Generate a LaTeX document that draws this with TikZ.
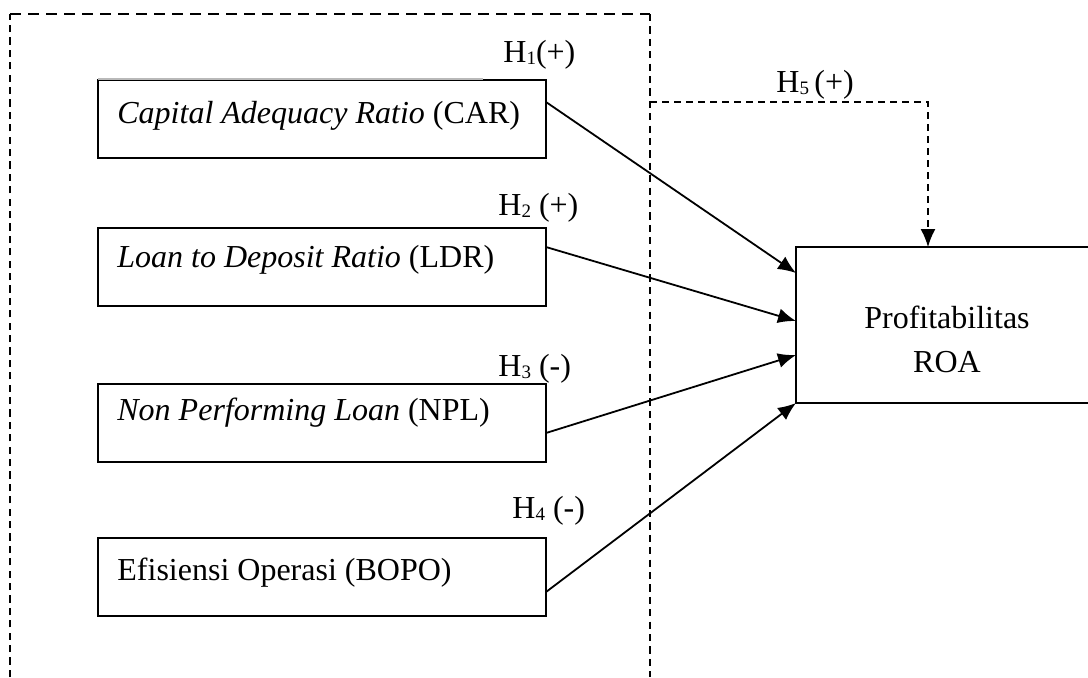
\documentclass[tikz,border=0pt]{standalone}
\usepackage{fontspec}
\setmainfont{Liberation Serif}
\usetikzlibrary{arrows.meta}
% hypothesis label: H with a lowered subscript number
\newcommand{\hyplabel}[2]{H\raisebox{-1.2pt}{\fontsize{9.5}{10}\selectfont #1}#2}

\begin{document}
\begin{tikzpicture}[x=0.5pt,y=-0.5pt,
  varbox/.style={draw, line width=1pt, minimum width=224pt, minimum height=39pt,
                 anchor=north west, inner sep=0pt, outer sep=0pt},
  vartext/.style={anchor=base west, inner sep=0pt, font=\fontsize{16}{19}\selectfont},
  hlabel/.style={anchor=base west, inner sep=0pt, font=\fontsize{16}{19}\selectfont},
  roatext/.style={anchor=base, inner sep=0pt, font=\fontsize{16}{19}\selectfont},
  link/.style={-{Latex[length=9pt,width=7.5pt]}, line width=0.9pt},
  dashlink/.style={-{Latex[length=9pt,width=7.5pt]}, line width=0.8pt,
                   dash pattern=on 3.6pt off 2.4pt},
  frameside/.style={line width=0.8pt, dash pattern=on 3.6pt off 2.6pt},
  frametop/.style={line width=0.8pt, dash pattern=on 5.5pt off 3.5pt}]

\useasboundingbox (0,0) rectangle (1088,677);

% dashed frame round the independent variables (open at the bottom)
\coordinate (fbl) at (10,677);
\coordinate (ftl) at (10,14);
\coordinate (ftr) at (650,14);
\coordinate (fbr) at (650,677);
\draw[frameside] (fbl) -- (ftl);
\draw[frametop] (ftl) -- (ftr);
\draw[frameside] (ftr) -- (fbr);

% independent variables
\node[varbox] (car)  at (98,80)  {};
\node[varbox] (ldr)  at (98,228) {};
\node[varbox] (npl)  at (98,384) {};
\node[varbox] (bopo) at (98,538) {};
\draw[gray!55, line width=0.7pt] ([yshift=0.6pt]car.north west) -- ++(385,0);

\node[vartext] (tcar)  at (117,123) {\textit{Capital Adequacy Ratio} (CAR)};
\node[vartext] (tldr)  at (117,267) {\textit{Loan to Deposit Ratio} (LDR)};
\node[vartext] (tnpl)  at (117,420) {\textit{Non Performing Loan} (NPL)};
\node[vartext] (tbopo) at (117,580) {Efisiensi Operasi (BOPO)};

% dependent variable (box runs past the right margin)
\coordinate (pageR) at (1088,0);
\node[minimum width=151pt, minimum height=78pt, inner sep=0pt, outer sep=0pt] (roa) at (947,325) {};
\draw[line width=1pt] (roa.north west -| pageR) -- (roa.north west)
      -- (roa.south west) -- (roa.south west -| pageR);
\node[roatext] (roa1) at (947,328) {Profitabilitas};
\node[roatext] (roa2) at (947,372) {ROA};

% hypotheses
\node[hlabel] (h1) at (503,62)  {\hyplabel{1}{(+)}};
\node[hlabel] (h2) at (498,215) {\hyplabel{2}{ (+)}};
\node[hlabel] (h3) at (498,376) {\hyplabel{3}{ (-)}};
\node[hlabel] (h4) at (512,518) {\hyplabel{4}{ (-)}};
\node[hlabel] (h5) at (776,92)  {\hyplabel{5}{\,(+)}};

\draw[link] ([yshift=-11pt]car.north east)  -- ([yshift=-13pt]roa.north west);
\draw[link] ([yshift=-9.5pt]ldr.north east) -- ([yshift=-37pt]roa.north west);
\draw[link] ([yshift=-24.5pt]npl.north east) -- ([yshift=-54pt]roa.north west);
\draw[link] ([yshift=-27pt]bopo.north east) -- (roa.south west);

% simultaneous effect
\coordinate (h5start) at (650,102);
\draw[dashlink] (h5start) -| ([xshift=66pt]roa.north west);
\end{tikzpicture}
\end{document}
